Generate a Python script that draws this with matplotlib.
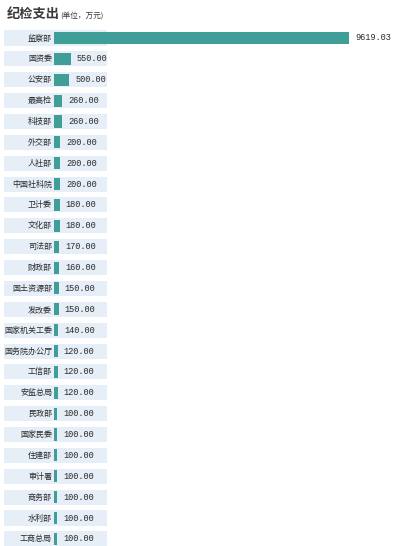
import matplotlib.pyplot as plt

plt.rcParams['font.family'] = ['Noto Sans CJK SC', 'DejaVu Sans']

departments = ['监察部', '国资委', '公安部', '最高检', '科技部', '外交部', '人社部',
               '中国社科院', '卫计委', '文化部', '司法部', '财政部', '国土资源部',
               '发改委', '国家机关工委', '国务院办公厅', '工信部', '安监总局',
               '民政部', '国家民委', '住建部', '审计署', '商务部', '水利部', '工商总局']
spending = [9619.03, 550.00, 500.00, 260.00, 260.00, 200.00, 200.00,
            200.00, 180.00, 180.00, 170.00, 160.00, 150.00,
            150.00, 140.00, 120.00, 120.00, 120.00,
            100.00, 100.00, 100.00, 100.00, 100.00, 100.00, 100.00]

W, H = 400, 546
x0 = 54           # pixel where bars start
px_per = 295 / 9619.03
y0, pitch = 38, 20.87

fig = plt.figure(figsize=(W / 100, H / 100), dpi=100)
ax = fig.add_axes([0, 0, 1, 1])
ax.set_xlim(-x0 / px_per, (W - x0) / px_per)
ax.set_ylim((H - y0) / pitch, -y0 / pitch)
ax.axis('off')

rows = range(len(departments))
band_l, band_r = (4 - x0) / px_per, (107 - x0) / px_per
ax.barh(rows, band_r - band_l, left=band_l, height=0.72, color='#e6eef7', zorder=1)
ax.barh(rows, spending, height=0.58, color='#3f9e97', zorder=2)

off = 6 / px_per
for i, (name, v) in enumerate(zip(departments, spending)):
    ax.text(-2 / px_per, i, name, ha='right', va='center', fontsize=5.8,
            color='#2a2a2a', zorder=3)
    ax.text(v + off, i, f'{v:.2f}', ha='left', va='center', fontsize=6.2,
            family='Liberation Mono', color='#2a2a2a', zorder=3)

fig.text(7 / W, 1 - 14 / H, '纪检支出', fontsize=9.5, fontweight='bold',
         color='#3a3a3a', ha='left', va='center')
fig.text(60 / W, 1 - 16 / H, '(单位，万元)', fontsize=5.5, color='#3a3a3a',
         ha='left', va='center')

fig.savefig('out.png', dpi=100)
